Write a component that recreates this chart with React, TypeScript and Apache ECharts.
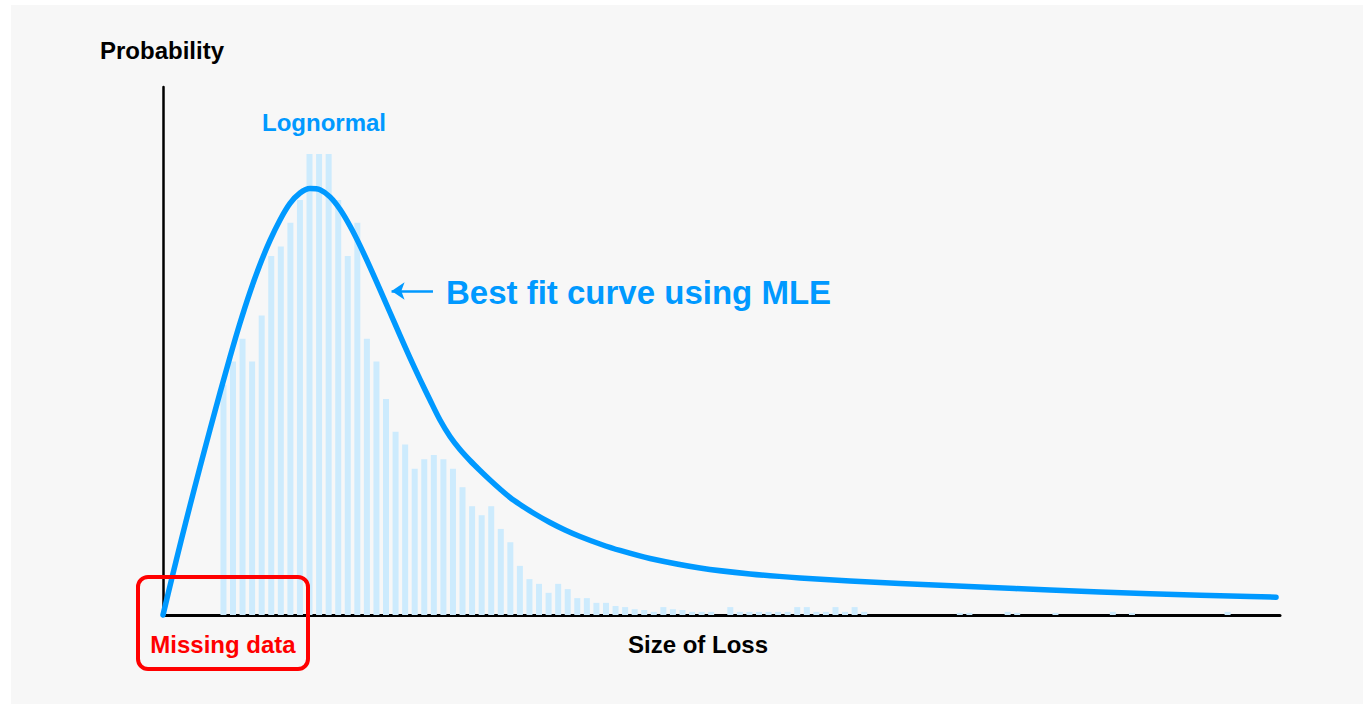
import React, { useEffect, useRef } from "react";
import * as echarts from "echarts";

// Histogram of observed losses: first bin position and bin heights (probability, arbitrary units)
const firstBin = 6.32;
const binHeights = [
  43.6, 48.0, 52.3, 48.0, 56.7, 68.0, 69.8, 74.3, 78.6, 87.3,
  87.3, 87.3, 78.6, 68.0, 74.3, 52.3, 48.0, 40.9, 34.7, 32.3,
  27.7, 29.5, 30.3, 29.5, 27.7, 24.2, 20.6, 18.9, 20.6, 16.3,
  13.8, 9.3, 6.8, 5.9, 4.2, 5.9, 4.9, 3.2, 3.2, 2.3,
  2.3, 1.7, 1.5, 1.1, 0.95, 0.6, 1.5, 1.1, 0.95, 0.6,
  0.6, 0.6, 0, 1.5, 0.6, 0.6, 0.6, 0.6, 0.6, 0.6,
  1.5, 1.5, 0.6, 0.6, 1.5, 0.6, 1.5, 0.6, 0, 0,
  0, 0, 0, 0, 0, 0, 0, 0.4, 0.4, 0,
  0, 0, 0.6, 0.4, 0, 0, 0, 0.4, 0, 0,
  0, 0, 0, 0.6, 0, 0.4, 0, 0, 0, 0,
  0, 0, 0, 0, 0, 0.6,
];

// Best fit lognormal curve (MLE)
const curveX = [
  0, 0.941, 1.882, 2.823, 3.869, 4.915, 5.96, 7.006, 8.052, 9.097,
  10.143, 11.189, 12.234, 13.28, 14.326, 15.371, 16.417, 17.463, 18.508, 19.554,
  20.6, 21.645, 22.691, 23.737, 24.782, 25.828, 26.874, 27.919, 28.965, 30.011,
  31.056, 32.102, 33.148, 34.193, 35.239, 36.285, 37.33, 38.899, 40.467, 42.036,
  43.605, 45.696, 47.787, 50.925, 56.153, 61.382, 66.61, 71.839, 77.067, 85.433,
  92.753, 103.21, 113.667, 116.386,
];
const curveY = [
  0, 7.08, 13.98, 20.72, 28.01, 35.11, 42.08, 48.86, 55.3, 61.17,
  66.38, 70.93, 74.81, 77.94, 79.92, 80.78, 80.55, 79.19, 76.84, 73.67,
  69.96, 65.89, 61.63, 57.29, 52.95, 48.69, 44.62, 40.72, 36.93, 33.81,
  31.34, 29.26, 27.37, 25.57, 23.86, 22.25, 20.93, 19.13, 17.52, 16.1,
  14.87, 13.45, 12.22, 10.7, 8.9, 7.77, 7.01, 6.44, 5.97, 5.3,
  4.73, 4.02, 3.5, 3.37,
];

// Annotation arrow (data coordinates)
const arrowFrom = [28.23, 61.36];
const arrowTo = [23.9, 61.36];

const xMax = 116.8;
const yMax = 100;

const FONT = '"Liberation Sans", Arial, Helvetica, sans-serif';
const BLUE = "#0099ff";

export default function App() {
  const ref = useRef<HTMLDivElement>(null);

  useEffect(() => {
    if (!ref.current) return;
    const chart = echarts.init(ref.current, undefined, { renderer: "svg" });

    const barData = binHeights.map((h, i) => [firstBin + i, h]);
    const lineData = curveX.map((x, i) => [x, curveY[i]]);

    chart.setOption({
      animation: false,
      backgroundColor: "#ffffff",
      grid: { left: 163, top: 87, width: 1117, height: 528, containLabel: false },
      xAxis: {
        type: "value",
        min: 0,
        max: xMax,
        axisLine: { show: true, lineStyle: { color: "#000", width: 3 } },
        axisTick: { show: false },
        axisLabel: { show: false },
        splitLine: { show: false },
      },
      yAxis: {
        type: "value",
        min: 0,
        max: yMax,
        axisLine: { show: true, onZero: false, lineStyle: { color: "#000", width: 2.5 } },
        axisTick: { show: false },
        axisLabel: { show: false },
        splitLine: { show: false },
      },
      graphic: [
        {
          type: "rect",
          z: -10,
          silent: true,
          shape: { x: 11, y: 5, width: 1352, height: 699 },
          style: { fill: "#f7f7f7" },
        },
        {
          type: "text",
          x: 162,
          y: 50,
          style: {
            text: "Probability",
            fill: "#000",
            font: `bold 24px ${FONT}`,
            textAlign: "center",
            textVerticalAlign: "middle",
          },
        },
        {
          type: "text",
          x: 324,
          y: 122,
          style: {
            text: "Lognormal",
            fill: BLUE,
            font: `bold 24px ${FONT}`,
            textAlign: "center",
            textVerticalAlign: "middle",
          },
        },
        {
          type: "text",
          x: 446,
          y: 292,
          style: {
            text: "Best fit curve using MLE",
            fill: BLUE,
            font: `bold 33px ${FONT}`,
            textAlign: "left",
            textVerticalAlign: "middle",
          },
        },
        {
          type: "text",
          x: 698,
          y: 644,
          style: {
            text: "Size of Loss",
            fill: "#000",
            font: `bold 24px ${FONT}`,
            textAlign: "center",
            textVerticalAlign: "middle",
          },
        },
        {
          type: "rect",
          z: 100,
          shape: { x: 138, y: 577, width: 170, height: 92, r: 10 },
          style: { fill: "none", stroke: "#ff0000", lineWidth: 4 },
        },
        {
          type: "text",
          z: 100,
          x: 223,
          y: 644,
          style: {
            text: "Missing data",
            fill: "#ff0000",
            font: `bold 24px ${FONT}`,
            textAlign: "center",
            textVerticalAlign: "middle",
          },
        },
      ],
      series: [
        {
          type: "bar",
          data: barData,
          barWidth: 6,
          itemStyle: { color: "#cdebfd" },
          silent: true,
          z: 1,
        },
        {
          type: "line",
          data: lineData,
          smooth: 0.3,
          showSymbol: false,
          symbol: "none",
          clip: false,
          lineStyle: { color: BLUE, width: 5.5, cap: "round", join: "round" },
          silent: true,
          z: 3,
          markLine: {
            silent: true,
            animation: false,
            symbol: ["none", "arrow"],
            symbolSize: [13, 13],
            label: { show: false },
            lineStyle: { color: BLUE, width: 2.5, type: "solid" },
            emphasis: { disabled: true },
            data: [[{ coord: arrowFrom }, { coord: arrowTo }]],
          },
        },
      ],
    });

    return () => chart.dispose();
  }, []);

  return (
    <div
      ref={ref}
      style={{ position: "absolute", left: 0, top: 0, width: 1363, height: 704 }}
    />
  );
}
